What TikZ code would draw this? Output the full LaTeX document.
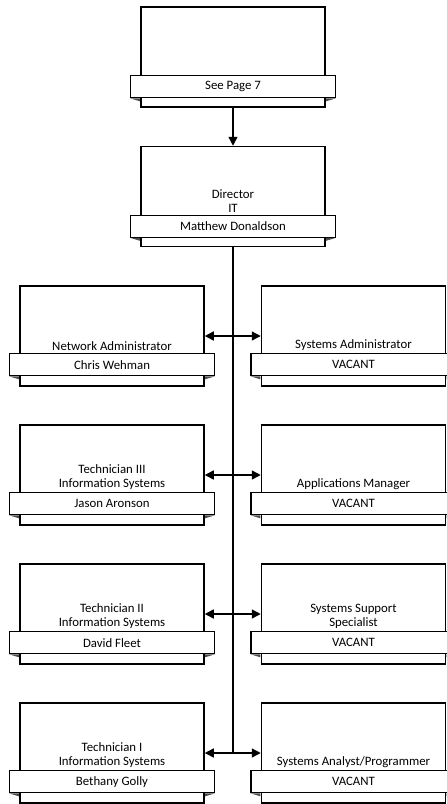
\documentclass[tikz,border=0pt]{standalone}
\usepackage{fontspec}
\setmainfont{Carlito}
\usepackage{tikz}
\usetikzlibrary{arrows.meta,positioning}

\begin{document}
\begin{tikzpicture}[
    x=1pt, y=-1pt,
    font=\fontsize{12.8}{14.5}\selectfont,
    box/.style={draw, line width=1.5pt, fill=white, minimum width=184pt, minimum height=100pt, inner sep=0pt},
    band/.style={draw, line width=1.1pt, fill=white, minimum width=205pt, minimum height=22pt, inner sep=0pt},
    title/.style={anchor=south, align=center, inner sep=2pt},
    fold/.style={fill=black!70},
    arrow/.style={-{Triangle[length=9pt,width=9pt]}, line width=1.4pt},
    both/.style={{Triangle[length=9pt,width=9pt]}-{Triangle[length=9pt,width=9pt]}, line width=1.4pt}
]
\clip (0,0) rectangle (447,804);
\useasboundingbox (0,0) rectangle (447,804);

% top of the chart
\node[box] (top) at (233,57) {};
\node[band] (top-name) at ([yshift=21pt]top.south) {See Page 7};
\node[box] (dir) at (233,196.5) {};
\node[band] (dir-name) at ([yshift=21pt]dir.south) {Matthew Donaldson};
\node[title] (dir-title) at (dir-name.north) {Director\\IT};

% left column
\node[box] (netadm) at (112,336) {};
\node[band] (netadm-name) at ([yshift=22pt]netadm.south) {Chris Wehman};
\node[title] (netadm-title) at (netadm-name.north) {Network Administrator};
\node[box] (tech3) at (112,475) {};
\node[band] (tech3-name) at ([yshift=22pt]tech3.south) {Jason Aronson};
\node[title] (tech3-title) at (tech3-name.north) {Technician III\\Information Systems};
\node[box] (tech2) at (112,614) {};
\node[band] (tech2-name) at ([yshift=22pt]tech2.south) {David Fleet};
\node[title] (tech2-title) at (tech2-name.north) {Technician II\\Information Systems};
\node[box] (tech1) at (112,753) {};
\node[band] (tech1-name) at ([yshift=22pt]tech1.south) {Bethany Golly};
\node[title] (tech1-title) at (tech1-name.north) {Technician I\\Information Systems};

% right column
\node[box] (sysadm) at (353.5,336) {};
\node[band] (sysadm-name) at ([yshift=22pt]sysadm.south) {VACANT};
\node[title] (sysadm-title) at (sysadm-name.north) {Systems Administrator};
\node[box] (appmgr) at (353.5,475) {};
\node[band] (appmgr-name) at ([yshift=22pt]appmgr.south) {VACANT};
\node[title] (appmgr-title) at (appmgr-name.north) {Applications Manager};
\node[box] (support) at (353.5,614) {};
\node[band] (support-name) at ([yshift=22pt]support.south) {VACANT};
\node[title] (support-title) at (support-name.north) {Systems Support\\Specialist};
\node[box] (analyst) at (353.5,753) {};
\node[band] (analyst-name) at ([yshift=22pt]analyst.south) {VACANT};
\node[title] (analyst-title) at (analyst-name.north) {Systems Analyst/Programmer};

% folded tab corners
\foreach \n in {top,dir,netadm,tech3,tech2,tech1,sysadm,appmgr,support,analyst}{
  \fill[fold] (\n-name.south west) -- ++(10pt,0) -- ++(0,-3pt) -- cycle;
  \fill[fold] (\n-name.south east) -- ++(-10pt,0) -- ++(0,-3pt) -- cycle;
}

% connectors
\coordinate (spine) at (dir.south |- tech1.east);
\draw[arrow] (top.south) -- (dir.north);
\draw[line width=1.4pt] (dir.south) -- (spine);
\draw[both] (netadm.east) -- (sysadm.west);
\draw[both] (tech3.east) -- (appmgr.west);
\draw[both] (tech2.east) -- (support.west);
\draw[both] (tech1.east) -- (analyst.west);
\end{tikzpicture}
\end{document}
